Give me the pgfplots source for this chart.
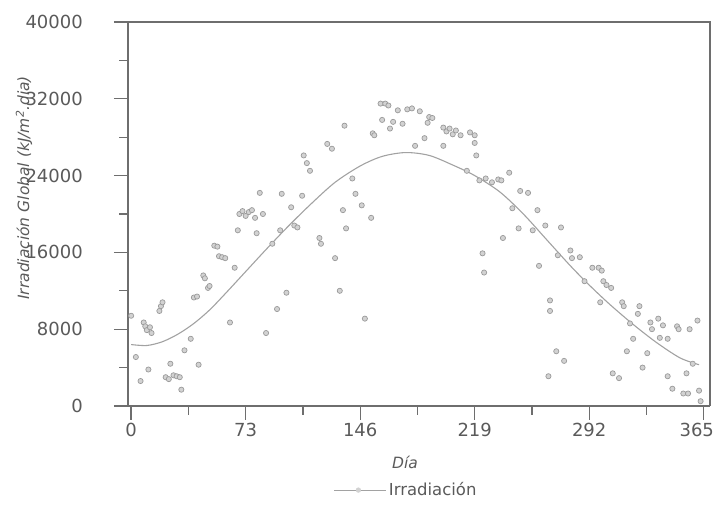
\documentclass[border=0pt]{standalone}
\usepackage{fontspec}
\setmainfont{DejaVu Sans}
\usepackage{pgfplots}
\pgfplotsset{compat=1.18}
\definecolor{txt}{HTML}{5A5A5A}
\definecolor{axc}{HTML}{6E6E6E}
\definecolor{mk}{HTML}{D2D2D2}
\definecolor{mkd}{HTML}{9A9A9A}
\definecolor{crv}{HTML}{A2A2A2}
\begin{document}
\begin{tikzpicture}[x=1bp,y=1bp]
\useasboundingbox (0,0) rectangle (717,506);
\begin{axis}[
  name=ax,
  at={(128bp,100bp)}, anchor=south west,
  scale only axis, width=582bp, height=384bp,
  xmin=-2, xmax=369, ymin=0, ymax=40000,
  clip=false,
  axis x line*=bottom, axis y line*=left,
  xtick={0,73,146,219,292,365}, ytick={0,8000,...,40000},
  xticklabels={0,73,146,219,292,\makebox[0pt]{365\hspace*{14bp}}},
  minor x tick num=1, minor y tick num=1,
  tick align=outside,
  major tick length=14bp, minor tick length=9bp,
  axis line style={axc, line width=1.3bp, -},
  every tick/.style={axc, line width=1.3bp},
  scaled y ticks=false,
  /pgf/number format/assume math mode=true,
  /pgf/number format/1000 sep={},
  tick label style={font=\fontsize{18bp}{20bp}\selectfont, text=txt, inner sep=0pt},
  yticklabel style={anchor=east, xshift=-31bp},
  xticklabel style={anchor=north, yshift=-3bp},
  every axis y label/.style={at={(axis description cs:-0.1787,0.568)}, rotate=90, anchor=center,
     font=\fontsize{15.5bp}{18bp}\selectfont\itshape, text=txt},
  every axis x label/.style={at={(axis description cs:0.476,0)}, anchor=center, yshift=-56bp,
     font=\fontsize{15.5bp}{18bp}\selectfont\itshape, text=txt},
  ylabel={Irradiación Global (kJ/m\textsuperscript{2}.dia)},
  xlabel={Día},
  legend style={at={(axis description cs:0.478,-0.219)}, anchor=center, draw=none, fill=none,
     font=\fontsize{16.5bp}{18bp}\selectfont, text=txt, inner sep=0pt},
  legend image code/.code={\draw[crv, line width=1bp] (-4bp,0bp) -- (48bp,0bp); \fill[mk] (20bp,0bp) circle (2.4bp);},
]
\addplot[axc, line width=1.3bp, no marks, forget plot] coordinates {(-2,40000) (369,40000) (369,0)};
\addplot[only marks, mark=*, mark size=2.6bp, mark options={fill=mk, draw=mkd, line width=0.7bp}] coordinates {
(0,9400) (3,5100) (6,2600) (8,8700) (9,8300) (10,7900) (11,3800) (12,8200) (13,7600)
(18,9900) (19,10400) (20,10800) (22,3000) (24,2800) (25,4400) (27,3200) (29,3100) (31,3000)
(32,1700) (34,5800) (38,7000) (40,11300) (42,11400) (43,4300) (46,13600) (47,13300) (49,12300)
(50,12500) (53,16700) (55,16600) (56,15600) (58,15500) (60,15400) (63,8700) (66,14400) (68,18300)
(69,20000) (71,20300) (73,19800) (75,20200) (77,20400) (79,19600) (80,18000) (82,22200) (84,20000)
(86,7600) (90,16900) (93,10100) (95,18300) (96,22100) (99,11800) (102,20700) (104,18800) (106,18600)
(109,21900) (110,26100) (112,25300) (114,24500) (120,17500) (121,16900) (125,27300) (128,26800)
(130,15400) (133,12000) (135,20400) (136,29200) (137,18500) (141,23700) (143,22100) (147,20900)
(149,9100) (153,19600) (154,28400) (155,28200) (159,31500) (160,29800) (162,31500) (164,31300)
(165,28900) (167,29600) (170,30800) (173,29400) (176,30900) (179,31000) (181,27100) (184,30700)
(187,27900) (189,29500) (190,30100) (192,30000) (199,29000) (199,27100) (201,28600) (203,28900)
(205,28300) (207,28700) (210,28200) (214,24500) (216,28500) (219,28200) (219,27400) (220,26100)
(222,23500) (224,15900) (225,13900) (226,23700) (230,23300) (234,23600) (236,23500) (237,17500)
(241,24300) (243,20600) (247,18500) (248,22400) (253,22200) (256,18300) (259,20400) (260,14600)
(264,18800) (266,3100) (267,11000) (267,9900) (271,5700) (272,15700) (274,18600) (276,4700)
(280,16200) (281,15400) (286,15500) (289,13000) (294,14400) (298,14400) (300,14100) (299,10800)
(301,13000) (303,12600) (306,12300) (307,3400) (311,2900) (313,10800) (314,10400) (316,5700)
(318,8600) (320,7000) (323,9600) (324,10400) (326,4000) (329,5500) (331,8700) (332,8000)
(336,9100) (337,7100) (339,8400) (342,7000) (342,3100) (345,1800) (348,8300) (349,8000)
(352,1300) (354,3400) (355,1300) (356,8000) (358,4400) (361,8900) (362,1600) (363,500)
};
\addlegendentry{Irradiación}
\addplot[crv, line width=1.1bp, smooth, no marks, forget plot] coordinates {
(0,6400) (10,6300) (20,6700) (30,7500) (40,8600) (50,10000) (60,11700) (73,14000) (86,16300)
(100,18700) (115,21100) (130,23300) (146,25000) (160,26000) (175,26400) (190,26100) (205,25100)
(219,24000) (235,22300) (250,20000) (265,17300) (280,14600) (292,12600) (305,10600) (320,8500)
(335,6600) (350,5000) (362,4300)
};
\end{axis}
\end{tikzpicture}
\end{document}
